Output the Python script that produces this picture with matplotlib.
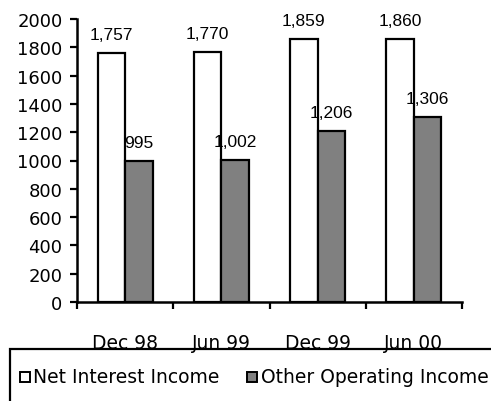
import matplotlib
matplotlib.use("Agg")
import matplotlib.pyplot as plt
from matplotlib.patches import Rectangle
import numpy as np

categories = ["Dec 98", "Jun 99", "Dec 99", "Jun 00"]
net_interest = [1757, 1770, 1859, 1860]
other_operating = [995, 1002, 1206, 1306]
series_names = ["Net Interest Income", "Other Operating Income"]
series_colors = ["white", "#808080"]
yticks = [0, 200, 400, 600, 800, 1000, 1200, 1400, 1600, 1800, 2000]

WIDE = ['DejaVu Sans']
NARROW = ['Liberation Sans', 'DejaVu Sans']
plt.rcParams['font.family'] = WIDE

W, H = 491, 402
fig = plt.figure(figsize=(W / 100, H / 100), dpi=100)
ax = fig.add_axes([77 / W, 1 - 303 / H, (462 - 77) / W, (303 - 20) / H])

x = np.arange(len(categories))
bw = 0.285
ax.bar(x - bw / 2, net_interest, bw, color=series_colors[0], edgecolor="black", linewidth=1.6)
ax.bar(x + bw / 2, other_operating, bw, color=series_colors[1], edgecolor="black", linewidth=1.6)

for xi, v in zip(x, net_interest):
    ax.annotate(f"{v:,}", (xi - bw / 2, v), xytext=(0, 14), textcoords="offset pixels",
                ha="center", va="baseline", fontsize=12.5, family=NARROW)
for xi, v in zip(x, other_operating):
    ax.annotate(f"{v:,}", (xi + bw / 2, v), xytext=(0, 14), textcoords="offset pixels",
                ha="center", va="baseline", fontsize=12.5, family=NARROW)

ax.set_xlim(-0.5, len(categories) - 0.5)
ax.set_ylim(0, 2000)
ax.set_yticks(yticks)
ax.set_yticklabels([str(t) for t in yticks], fontsize=13)
ax.tick_params(axis="y", direction="out", length=5, width=1.6, pad=5.5)

ax.set_xticks(np.arange(len(categories) + 1) - 0.5)
ax.set_xticklabels([])
ax.tick_params(axis="x", which="major", direction="out", length=5, width=1.6)
ax.set_xticks(x, minor=True)
ax.set_xticklabels(categories, minor=True, fontsize=13.5)
ax.tick_params(axis="x", which="minor", length=0, pad=22)

for s in ["top", "right"]:
    ax.spines[s].set_visible(False)
for s in ["left", "bottom"]:
    ax.spines[s].set_linewidth(1.8)

# legend box (extends beyond right edge)
fig.patches.append(Rectangle((10 / W, -0.1), 1.0, (1 - 350 / H) + 0.1, transform=fig.transFigure,
                             facecolor="none", edgecolor="black", linewidth=1.6))
sq_x = [20, 247]
txt_x = [33, 261]
for sx, tx, name, col in zip(sq_x, txt_x, series_names, series_colors):
    fig.patches.append(Rectangle((sx / W, 1 - 383 / H), 10 / W, 10 / H, transform=fig.transFigure,
                                 facecolor=col, edgecolor="black", linewidth=1.4))
    fig.text(tx / W, 1 - 383 / H, name, ha="left", va="baseline", fontsize=13.5)

fig.savefig("out.png", dpi=100)
